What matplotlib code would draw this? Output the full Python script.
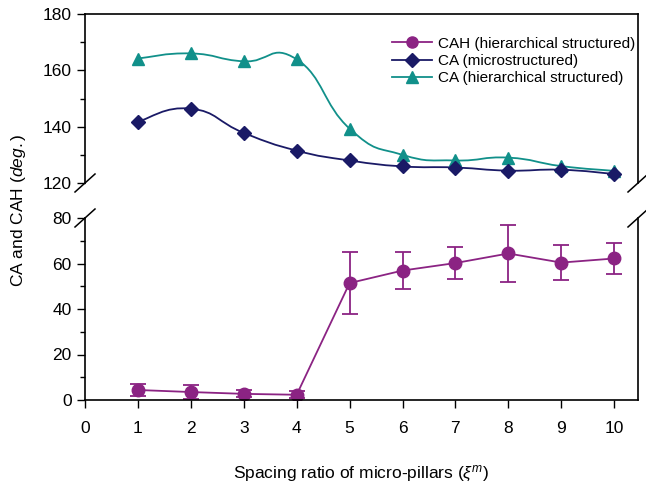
import numpy as np
import matplotlib
matplotlib.use("Agg")
import matplotlib.pyplot as plt
from matplotlib.path import Path
from matplotlib.patches import PathPatch
from matplotlib.lines import Line2D

plt.rcParams['font.family'] = ['Liberation Sans', 'DejaVu Sans']
plt.rcParams['mathtext.fontset'] = 'custom'
plt.rcParams['mathtext.rm'] = 'Liberation Sans'
plt.rcParams['mathtext.it'] = 'Liberation Sans:italic'

x = [1, 2, 3, 4, 5, 6, 7, 8, 9, 10]
ca_hier = [164.2, 166.0, 163.2, 163.9, 139.3, 130.0, 128.0, 129.0, 126.0, 124.3]
ca_micro = [141.8, 146.4, 137.8, 131.5, 128.0, 125.9, 125.5, 124.4, 124.7, 123.2]
cah_hier = [4.4, 3.5, 2.7, 2.3, 51.4, 56.9, 60.2, 64.4, 60.4, 62.2]
cah_err = [2.5, 3.0, 1.5, 1.6, 13.8, 8.3, 7.0, 12.4, 7.6, 7.0]

c_purple = '#8B2383'
c_navy = '#1A1A66'
c_teal = '#11908A'

FS = 12.5

fig = plt.figure(figsize=(6.46, 4.84), dpi=100)
L, R = 85/646, 638/646
ax_top = fig.add_axes([L, 1-183/484, R-L, (183-14)/484])
ax_bot = fig.add_axes([L, 1-400/484, R-L, (400-218)/484])


def smooth_path(xs, ys, t=0.5):
    xs = np.asarray(xs, float); ys = np.asarray(ys, float)
    verts = [(xs[0], ys[0])]
    codes = [Path.MOVETO]
    n = len(xs)
    for i in range(n-1):
        x0, y0 = (xs[i-1], ys[i-1]) if i > 0 else (xs[i], ys[i])
        x3, y3 = (xs[i+2], ys[i+2]) if i+2 < n else (xs[i+1], ys[i+1])
        x1, y1 = xs[i], ys[i]
        x2, y2 = xs[i+1], ys[i+1]
        c1 = (x1 + (x2-x0)*t/3, y1 + (y2-y0)*t/3)
        c2 = (x2 - (x3-x1)*t/3, y2 - (y3-y1)*t/3)
        verts += [c1, c2, (x2, y2)]
        codes += [Path.CURVE4]*3
    return Path(verts, codes)

ax_top.add_patch(PathPatch(smooth_path(x, ca_hier, 0.75), fc='none', ec=c_teal, lw=1.3))
ax_top.add_patch(PathPatch(smooth_path(x, ca_micro, 0.75), fc='none', ec=c_navy, lw=1.3))
ax_top.plot(x, ca_hier, ls='none', marker='^', ms=8, color=c_teal)
ax_top.plot(x, ca_micro, ls='none', marker='D', ms=7.5, color=c_navy)

ax_bot.errorbar(x, cah_hier, yerr=cah_err, color=c_purple, marker='o', ms=9,
                lw=1.3, capsize=6, elinewidth=1.3, capthick=1.3)

for ax in (ax_top, ax_bot):
    ax.set_xlim(0, 10.45)
    ax.tick_params(direction='out', labelsize=FS, length=6, width=1)
    ax.tick_params(which='minor', direction='out', length=3.5, width=1)
    for s in ax.spines.values():
        s.set_linewidth(1.2)

ax_top.set_ylim(120, 180)
ax_top.set_yticks([120, 140, 160, 180])
ax_top.set_yticks([130, 150, 170], minor=True)
ax_top.spines['bottom'].set_visible(False)
ax_top.tick_params(axis='x', which='both', bottom=False, labelbottom=False)

ax_bot.set_ylim(0, 80)
ax_bot.set_yticks([0, 20, 40, 60, 80])
ax_bot.set_yticks([10, 30, 50, 70], minor=True)
ax_bot.spines['top'].set_visible(False)
ax_bot.set_xticks(range(0, 11))
ax_bot.tick_params(axis='x', pad=9)
ax_bot.set_xlabel(r'Spacing ratio of micro-pillars ($\xi^m$)', fontsize=FS, labelpad=20)

fig.text(19/646, 1-210/484, r'CA and CAH ($\it{deg.}$)', rotation=90, fontsize=FS,
         ha='center', va='center')

# break marks
for xp in (L, R):
    for yp in (183, 218):
        yy = 1-yp/484
        fig.add_artist(Line2D([xp-10/646, xp+10/646], [yy-9/484, yy+9/484],
                              color='black', lw=1.1, transform=fig.transFigure))

handles = [
    Line2D([], [], color=c_purple, marker='o', ms=8, lw=1.3),
    Line2D([], [], color=c_navy, marker='D', ms=7, lw=1.3),
    Line2D([], [], color=c_teal, marker='^', ms=8, lw=1.3),
]
labels = ['CAH (hierarchical structured)', 'CA (microstructured)', 'CA (hierarchical structured)']
ax_top.legend(handles, labels, loc='upper right', bbox_to_anchor=(1.012, 0.92), frameon=False,
              fontsize=11, handlelength=2.6, labelspacing=0.22, borderaxespad=0.2, handletextpad=0.4)

fig.savefig('out.png', dpi=100)
